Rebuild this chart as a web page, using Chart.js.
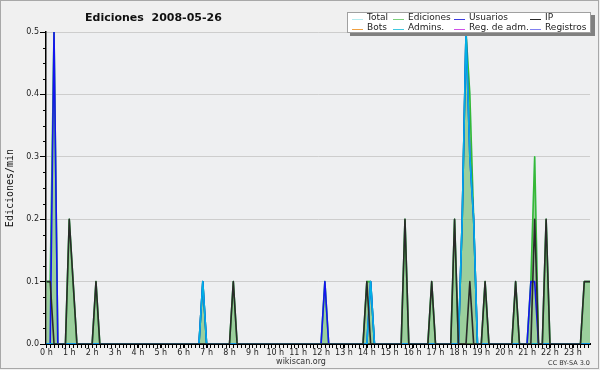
<!DOCTYPE html>
<html>
<head>
<meta charset="utf-8">
<script src="https://cdn.jsdelivr.net/npm/chart.js@4.4.1/dist/chart.umd.min.js"></script>
<style>
body { margin: 0; background: #fff; }
</style>
</head>
<body>
<canvas id="chart" width="600" height="370"></canvas>
<script>
const titleText = 'Ediciones  2008-05-26';
const yTitle = 'Ediciones/min';
const footerText = 'wikiscan.org';
const licenceText = 'CC BY-SA 3.0';

const hourLabels = ['0 h', '1 h', '2 h', '3 h', '4 h', '5 h', '6 h', '7 h', '8 h', '9 h', '10 h', '11 h',
    '12 h', '13 h', '14 h', '15 h', '16 h', '17 h', '18 h', '19 h', '20 h', '21 h', '22 h', '23 h'];
const yTicks = [0, 0.1, 0.2, 0.3, 0.4, 0.5];

// one value per 10 minutes, one row per hour
const total = [
    0.1, 0.1, 0.5, 0, 0, 0,   0.2, 0.1, 0, 0, 0, 0, 0, 0.1, 0, 0, 0, 0,   0, 0, 0, 0, 0, 0,
    0, 0, 0, 0, 0, 0,         0, 0, 0, 0, 0, 0,     0, 0, 0, 0, 0, 0.1,   0, 0, 0, 0, 0, 0,
    0, 0.1, 0, 0, 0, 0,       0, 0, 0, 0, 0, 0,     0, 0, 0, 0, 0, 0,     0, 0, 0, 0, 0, 0,
    0, 0.1, 0, 0, 0, 0,       0, 0, 0, 0, 0, 0,     0.1, 0.1, 0, 0, 0, 0, 0, 0, 0, 0, 0.2, 0,
    0, 0, 0, 0, 0, 0.1,       0, 0, 0, 0, 0, 0.2,   0, 0.2, 0.5, 0.4, 0.2, 0, 0, 0.1, 0, 0, 0, 0,
    0, 0, 0, 0.1, 0, 0,       0, 0.1, 0.3, 0, 0, 0.2, 0, 0, 0, 0, 0, 0,   0, 0, 0, 0.1, 0.1, 0.1
];
const ediciones = [
    0.1, 0.1, 0.5, 0, 0, 0,   0.2, 0.1, 0, 0, 0, 0, 0, 0.1, 0, 0, 0, 0,   0, 0, 0, 0, 0, 0,
    0, 0, 0, 0, 0, 0,         0, 0, 0, 0, 0, 0,     0, 0, 0, 0, 0, 0.1,   0, 0, 0, 0, 0, 0,
    0, 0.1, 0, 0, 0, 0,       0, 0, 0, 0, 0, 0,     0, 0, 0, 0, 0, 0,     0, 0, 0, 0, 0, 0,
    0, 0.1, 0, 0, 0, 0,       0, 0, 0, 0, 0, 0,     0.1, 0.1, 0, 0, 0, 0, 0, 0, 0, 0, 0.2, 0,
    0, 0, 0, 0, 0, 0.1,       0, 0, 0, 0, 0, 0.2,   0, 0.2, 0.5, 0.4, 0.2, 0, 0, 0.1, 0, 0, 0, 0,
    0, 0, 0, 0.1, 0, 0,       0, 0.1, 0.3, 0, 0, 0.2, 0, 0, 0, 0, 0, 0,   0, 0, 0, 0.1, 0.1, 0.1
];
const usuarios = [
    0, 0, 0.5, 0, 0, 0,       0, 0, 0, 0, 0, 0,     0, 0, 0, 0, 0, 0,     0, 0, 0, 0, 0, 0,
    0, 0, 0, 0, 0, 0,         0, 0, 0, 0, 0, 0,     0, 0, 0, 0, 0, 0.1,   0, 0, 0, 0, 0, 0,
    0, 0, 0, 0, 0, 0,         0, 0, 0, 0, 0, 0,     0, 0, 0, 0, 0, 0,     0, 0, 0, 0, 0, 0,
    0, 0.1, 0, 0, 0, 0,       0, 0, 0, 0, 0, 0,     0, 0.1, 0, 0, 0, 0,   0, 0, 0, 0, 0, 0,
    0, 0, 0, 0, 0, 0,         0, 0, 0, 0, 0, 0,     0, 0.2, 0.5, 0.3, 0.2, 0, 0, 0, 0, 0, 0, 0,
    0, 0, 0, 0, 0, 0,         0, 0.1, 0.1, 0, 0, 0, 0, 0, 0, 0, 0, 0,   0, 0, 0, 0, 0, 0
];
const ip = [
    0.1, 0.1, 0, 0, 0, 0,     0.2, 0.1, 0, 0, 0, 0, 0, 0.1, 0, 0, 0, 0,   0, 0, 0, 0, 0, 0,
    0, 0, 0, 0, 0, 0,         0, 0, 0, 0, 0, 0,     0, 0, 0, 0, 0, 0,     0, 0, 0, 0, 0, 0,
    0, 0.1, 0, 0, 0, 0,       0, 0, 0, 0, 0, 0,     0, 0, 0, 0, 0, 0,     0, 0, 0, 0, 0, 0,
    0, 0, 0, 0, 0, 0,         0, 0, 0, 0, 0, 0,     0.1, 0, 0, 0, 0, 0,   0, 0, 0, 0, 0.2, 0,
    0, 0, 0, 0, 0, 0.1,       0, 0, 0, 0, 0, 0.2,   0, 0, 0, 0.1, 0, 0,   0, 0.1, 0, 0, 0, 0,
    0, 0, 0, 0.1, 0, 0,       0, 0, 0.2, 0, 0, 0.2, 0, 0, 0, 0, 0, 0,   0, 0, 0, 0.1, 0.1, 0.1
];
const admins = [
    0, 0, 0, 0, 0, 0,         0, 0, 0, 0, 0, 0,     0, 0, 0, 0, 0, 0,     0, 0, 0, 0, 0, 0,
    0, 0, 0, 0, 0, 0,         0, 0, 0, 0, 0, 0,     0, 0, 0, 0, 0, 0.1,   0, 0, 0, 0, 0, 0,
    0, 0, 0, 0, 0, 0,         0, 0, 0, 0, 0, 0,     0, 0, 0, 0, 0, 0,     0, 0, 0, 0, 0, 0,
    0, 0, 0, 0, 0, 0,         0, 0, 0, 0, 0, 0,     0, 0.1, 0, 0, 0, 0,   0, 0, 0, 0, 0, 0,
    0, 0, 0, 0, 0, 0,         0, 0, 0, 0, 0, 0,     0, 0.2, 0.5, 0.3, 0.2, 0, 0, 0, 0, 0, 0, 0,
    0, 0, 0, 0, 0, 0,         0, 0, 0, 0, 0, 0,     0, 0, 0, 0, 0, 0,     0, 0, 0, 0, 0, 0
];
// nothing recorded that day
const bots = [];
const regAdm = [];
const registros = [];

const font = 'DejaVu Sans';

// turn a list of bins into x/y points
function series(values) {
    return values.map((v, i) => ({ x: i, y: v }));
}

function lineSet(label, values, color, order, extra) {
    return Object.assign({
        label: label,
        data: series(values),
        borderColor: color,
        backgroundColor: color,
        borderWidth: 1.6,
        fill: false,
        order: order
    }, extra || {});
}

// background, frame and the plot area colour
const framePlugin = {
    id: 'frame',
    beforeDraw(chart) {
        const { ctx, chartArea: a } = chart;
        ctx.save();
        ctx.fillStyle = '#f0f0f0';
        ctx.fillRect(0, 0, chart.width, chart.height);
        ctx.fillStyle = '#eeeff1';
        ctx.fillRect(a.left, a.top, a.right - a.left, a.bottom - a.top);
        ctx.strokeStyle = '#a8a8a8';
        ctx.lineWidth = 1;
        ctx.strokeRect(0.5, 0.5, chart.width - 2, chart.height - 2);
        ctx.restore();
    }
};

// small ticks: every 10 min on x, every 0.025 on y
const minorTicks = {
    id: 'minorTicks',
    afterDraw(chart) {
        const { ctx, scales: { x, y } } = chart;
        ctx.save();
        ctx.strokeStyle = '#000';
        ctx.lineWidth = 1;
        ctx.beginPath();
        for (let i = 0; i < ediciones.length; i++) {
            if (i > x.max) break;
            const px = Math.round(x.getPixelForValue(i)) + 0.5;
            ctx.moveTo(px, y.bottom);
            ctx.lineTo(px, y.bottom + 4);
        }
        for (let k = 1; k < 20; k++) {
            if (k % 4 === 0) continue;
            const py = Math.round(y.getPixelForValue(k * 0.025)) + 0.5;
            ctx.moveTo(x.left - 3, py);
            ctx.lineTo(x.left, py);
        }
        ctx.stroke();
        ctx.restore();
    }
};

// title, footer texts and the boxed legend
const decorations = {
    id: 'decorations',
    afterDraw(chart) {
        const ctx = chart.ctx;
        ctx.save();
        ctx.fillStyle = '#111';
        ctx.textBaseline = 'alphabetic';
        ctx.textAlign = 'left';
        ctx.font = `bold 11px "${font}"`;
        ctx.fillText(titleText, 85, 21);

        ctx.fillStyle = '#333';
        ctx.font = `8px "${font}"`;
        ctx.textAlign = 'center';
        ctx.fillText(footerText, 301, 364);
        ctx.font = `6.5px "${font}"`;
        ctx.textAlign = 'right';
        ctx.fillText(licenceText, 590, 365);

        // legend box with shadow
        ctx.fillStyle = '#808080';
        ctx.fillRect(350, 15, 245, 21);
        ctx.fillStyle = '#fff';
        ctx.fillRect(347, 12, 244, 21);
        ctx.strokeStyle = '#a0a0a0';
        ctx.strokeRect(347.5, 12.5, 243, 20);

        const cols = [367, 408, 469, 545];
        const rows = [18, 28];
        ctx.font = `9px "${font}"`;
        ctx.textAlign = 'left';
        ctx.textBaseline = 'middle';
        chart.data.datasets.forEach((ds, i) => {
            const tx = cols[i % 4];
            const ty = rows[Math.floor(i / 4)];
            ctx.strokeStyle = ds.legendColor || ds.borderColor;
            ctx.lineWidth = 1;
            ctx.beginPath();
            ctx.moveTo(tx - 15, ty + 1.5);
            ctx.lineTo(tx - 4, ty + 1.5);
            ctx.stroke();
            ctx.fillStyle = '#222';
            ctx.fillText(ds.label, tx, ty);
        });
        ctx.restore();
    }
};

new Chart(document.getElementById('chart'), {
    type: 'line',
    data: {
        datasets: [
            lineSet('Total', total, '#b4ecf0', 4),
            lineSet('Ediciones', ediciones, '#36b836', 3, { fill: 'origin', backgroundColor: 'rgba(100,185,100,0.6)', legendColor: '#7cd07c' }),
            lineSet('Usuarios', usuarios, '#1414f0', 2, { legendColor: '#3c3ce0' }),
            lineSet('IP', ip, '#2a2a2a', 0),
            lineSet('Bots', bots, '#f0a040', 5),
            lineSet('Admins.', admins, '#00b0e6', 1, { legendColor: '#40c8e0' }),
            lineSet('Reg. de adm.', regAdm, '#d050e8', 5),
            lineSet('Registros', registros, '#8080f0', 5)
        ]
    },
    options: {
        responsive: false,
        animation: false,
        layout: { padding: { top: 32, right: 10, bottom: 0, left: 0 } },
        elements: {
            point: { radius: 0 },
            line: { tension: 0, borderJoinStyle: 'round' }
        },
        scales: {
            x: {
                type: 'linear',
                min: -0.1,
                max: 142.5,
                afterBuildTicks: (s) => { s.ticks = hourLabels.map((_, h) => ({ value: h * 6 })); },
                afterFit: (s) => { s.height = 26; },
                grid: { drawOnChartArea: false, tickLength: 4, tickColor: '#000' },
                border: { color: '#000', width: 2 },
                ticks: {
                    callback: (v, i) => hourLabels[i],
                    autoSkip: false,
                    maxRotation: 0,
                    padding: 0,
                    color: '#222',
                    font: { family: font, size: 8 }
                }
            },
            y: {
                min: 0,
                max: 0.5,
                afterBuildTicks: (s) => { s.ticks = yTicks.map(v => ({ value: v })); },
                afterFit: (s) => { s.width = 46; },
                grid: { color: '#cdcdcd', tickColor: '#000', tickLength: 6 },
                border: { color: '#000', width: 1.5 },
                ticks: {
                    callback: (v) => v.toFixed(1),
                    padding: 1,
                    color: '#222',
                    font: { family: font, size: 8 }
                },
                title: {
                    display: true,
                    text: yTitle,
                    color: '#111',
                    padding: { top: 4, bottom: 0 },
                    font: { family: 'DejaVu Sans Mono', size: 10 }
                }
            }
        },
        plugins: {
            legend: { display: false },
            tooltip: { enabled: false }
        }
    },
    plugins: [framePlugin, minorTicks, decorations]
});
</script>
</body>
</html>
